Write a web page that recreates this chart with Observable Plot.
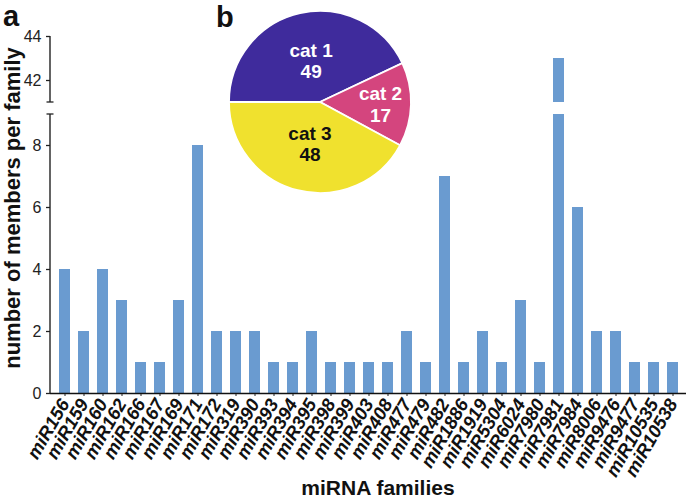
<!DOCTYPE html>
<html><head><meta charset="utf-8">
<script src="https://cdn.jsdelivr.net/npm/d3@7"></script>
<script src="https://cdn.jsdelivr.net/npm/@observablehq/plot@0.6"></script>
<style>
body{margin:0;background:#fff}
#wrap{position:relative;width:686px;height:498px;overflow:hidden;font-family:"Liberation Sans",Arial,sans-serif}
#wrap svg{position:absolute;left:0;top:0;background:transparent}
#wrap g[aria-label="x-axis tick label"]{font-size:18.5px}
#wrap g[aria-label="x-axis tick label"] text{font-weight:bold;font-style:italic;fill:#111}
</style></head><body><div id="wrap"></div>
<script>
// ---- data ----
const families = ["miR156","miR159","miR160","miR162","miR166","miR167","miR169","miR171","miR172","miR319",
  "miR390","miR393","miR394","miR395","miR398","miR399","miR403","miR408","miR477","miR479",
  "miR482","miR1886","miR1919","miR5304","miR6024","miR7980","miR7981","miR7984","miR8006","miR9476",
  "miR9477","miR10535","miR10538"];
const members = [4,2,4,3,1,1,3,8,2,2, 2,1,1,2,1,1,1,1,2,1, 7,1,2,1,3,1,43,6,2,2, 1,1,1];
const lowerDomain = [0, 9];
const upperDomain = [41, 44];
const lowerTicks = [0, 2, 4, 6, 8];
const upperTicks = [42, 44];
const pieCategories = ["cat 1", "cat 2", "cat 3"];
const pieCounts = [49, 17, 48];
const pieColors = ["#3f2b9c", "#d4457e", "#f0e12e"];
const pieTextColors = ["#ffffff", "#ffffff", "#111111"];

const rows = families.map((f, i) => ({family: f, n: members[i]}));
const barColor = "#6a9bd0";
const font = "'Liberation Sans', Arial, sans-serif";
const W = 686, H = 498;

function cap(value) {
  return (index, scales, values, dims) => {
    const y = scales.y(value);
    const x = dims.marginLeft;
    return d3.create("svg:line").attr("x1", x - 3.5).attr("x2", x + 3.5)
      .attr("y1", y).attr("y2", y).attr("stroke", "#222").attr("stroke-width", 1.3).node();
  };
}
function axisLine(domain) {
  return (index, scales, values, dims) => {
    const x = dims.marginLeft;
    return d3.create("svg:line").attr("x1", x).attr("x2", x)
      .attr("y1", scales.y(domain[0])).attr("y2", scales.y(domain[1]))
      .attr("stroke", "#222").attr("stroke-width", 1.4).node();
  };
}

const xOpts = {domain: families, paddingInner: 0.43, paddingOuter: 0.27, axis: null};
const baseStyle = {fontFamily: font, fontSize: "16px", color: "#222", background: "transparent", overflow: "visible"};

const lower = Plot.plot({
  width: W, height: H,
  marginLeft: 50, marginRight: 0, marginTop: 114, marginBottom: 105,
  style: baseStyle,
  x: xOpts,
  y: {domain: lowerDomain, axis: null},
  marks: [
    Plot.barY(rows, {x: "family", y: "n", fill: barColor, clip: true}),
    Plot.axisY({ticks: lowerTicks, tickFormat: "d", tickSize: 4, tickPadding: 5, label: null, strokeWidth: 1.3}),
    axisLine(lowerDomain),
    Plot.axisX({tickSize: 3, tickPadding: 4, label: null, tickRotate: -60, fontWeight: "bold", fontStyle: "italic", fontSize: 18.5}),
    Plot.ruleY([0], {stroke: "#111", strokeWidth: 1.5}),
    cap(lowerDomain[1])
  ]
});

const upper = Plot.plot({
  width: W, height: H,
  marginLeft: 50, marginRight: 0, marginTop: 36, marginBottom: 396,
  style: baseStyle,
  x: xOpts,
  y: {domain: upperDomain, axis: null},
  marks: [
    Plot.barY(rows, {x: "family", y: "n", fill: barColor, clip: true}),
    Plot.axisY({ticks: upperTicks, tickFormat: "d", tickSize: 4, tickPadding: 5, label: null, strokeWidth: 1.3}),
    axisLine(upperDomain),
    cap(upperDomain[0])
  ]
});

// pie
const pieArcs = d3.pie().sort(null).startAngle(-Math.PI / 2).endAngle(1.5 * Math.PI)(pieCounts);
const pieLabels = pieArcs.map((a, i) => {
  const mid = (a.startAngle + a.endAngle) / 2;
  const k = (a.endAngle - a.startAngle) < Math.PI / 2 ? 0.66 : 0.47;
  return {label: pieCategories[i] + "\n" + pieCounts[i], x: k * Math.sin(mid), y: k * Math.cos(mid), color: pieTextColors[i]};
});

const pie = Plot.plot({
  width: W, height: H,
  style: {...baseStyle},
  x: {domain: [-1, 1], range: [229, 411], axis: null},
  y: {domain: [-1, 1], range: [193, 11], axis: null},
  color: {type: "identity"},
  marks: [
    (index, {x, y}) => {
      const cx = x(0), cy = y(0), r = x(1) - x(0);
      const g = d3.create("svg:g").attr("transform", `translate(${cx},${cy})`);
      const arc = d3.arc().innerRadius(0).outerRadius(r);
      g.selectAll("path").data(pieArcs).join("path")
        .attr("d", arc).attr("fill", (d, i) => pieColors[i])
        .attr("stroke", "#fff").attr("stroke-width", 1.8);
      return g.node();
    },
    Plot.text(pieLabels, {x: "x", y: "y", text: "label", fill: "color", fontSize: 19, fontWeight: "bold", lineHeight: 1.12})
  ]
});

// titles
const titles = d3.create("svg").attr("width", W).attr("height", H).attr("font-family", font).attr("fill", "#111");
titles.append("text").attr("x", 3).attr("y", 26).attr("font-size", 29).attr("font-weight", "bold").text("a");
titles.append("text").attr("x", 216).attr("y", 27).attr("font-size", 29).attr("font-weight", "bold").text("b");
titles.append("text").attr("transform", "translate(20,208) rotate(-90)").attr("text-anchor", "middle")
  .attr("font-size", 22).attr("font-weight", "bold").text("number of members per family");
titles.append("text").attr("x", 378).attr("y", 495).attr("text-anchor", "middle")
  .attr("font-size", 21).attr("font-weight", "bold").text("miRNA families");

const wrap = document.getElementById("wrap");
wrap.append(lower, upper, pie, titles.node());
</script></body></html>
